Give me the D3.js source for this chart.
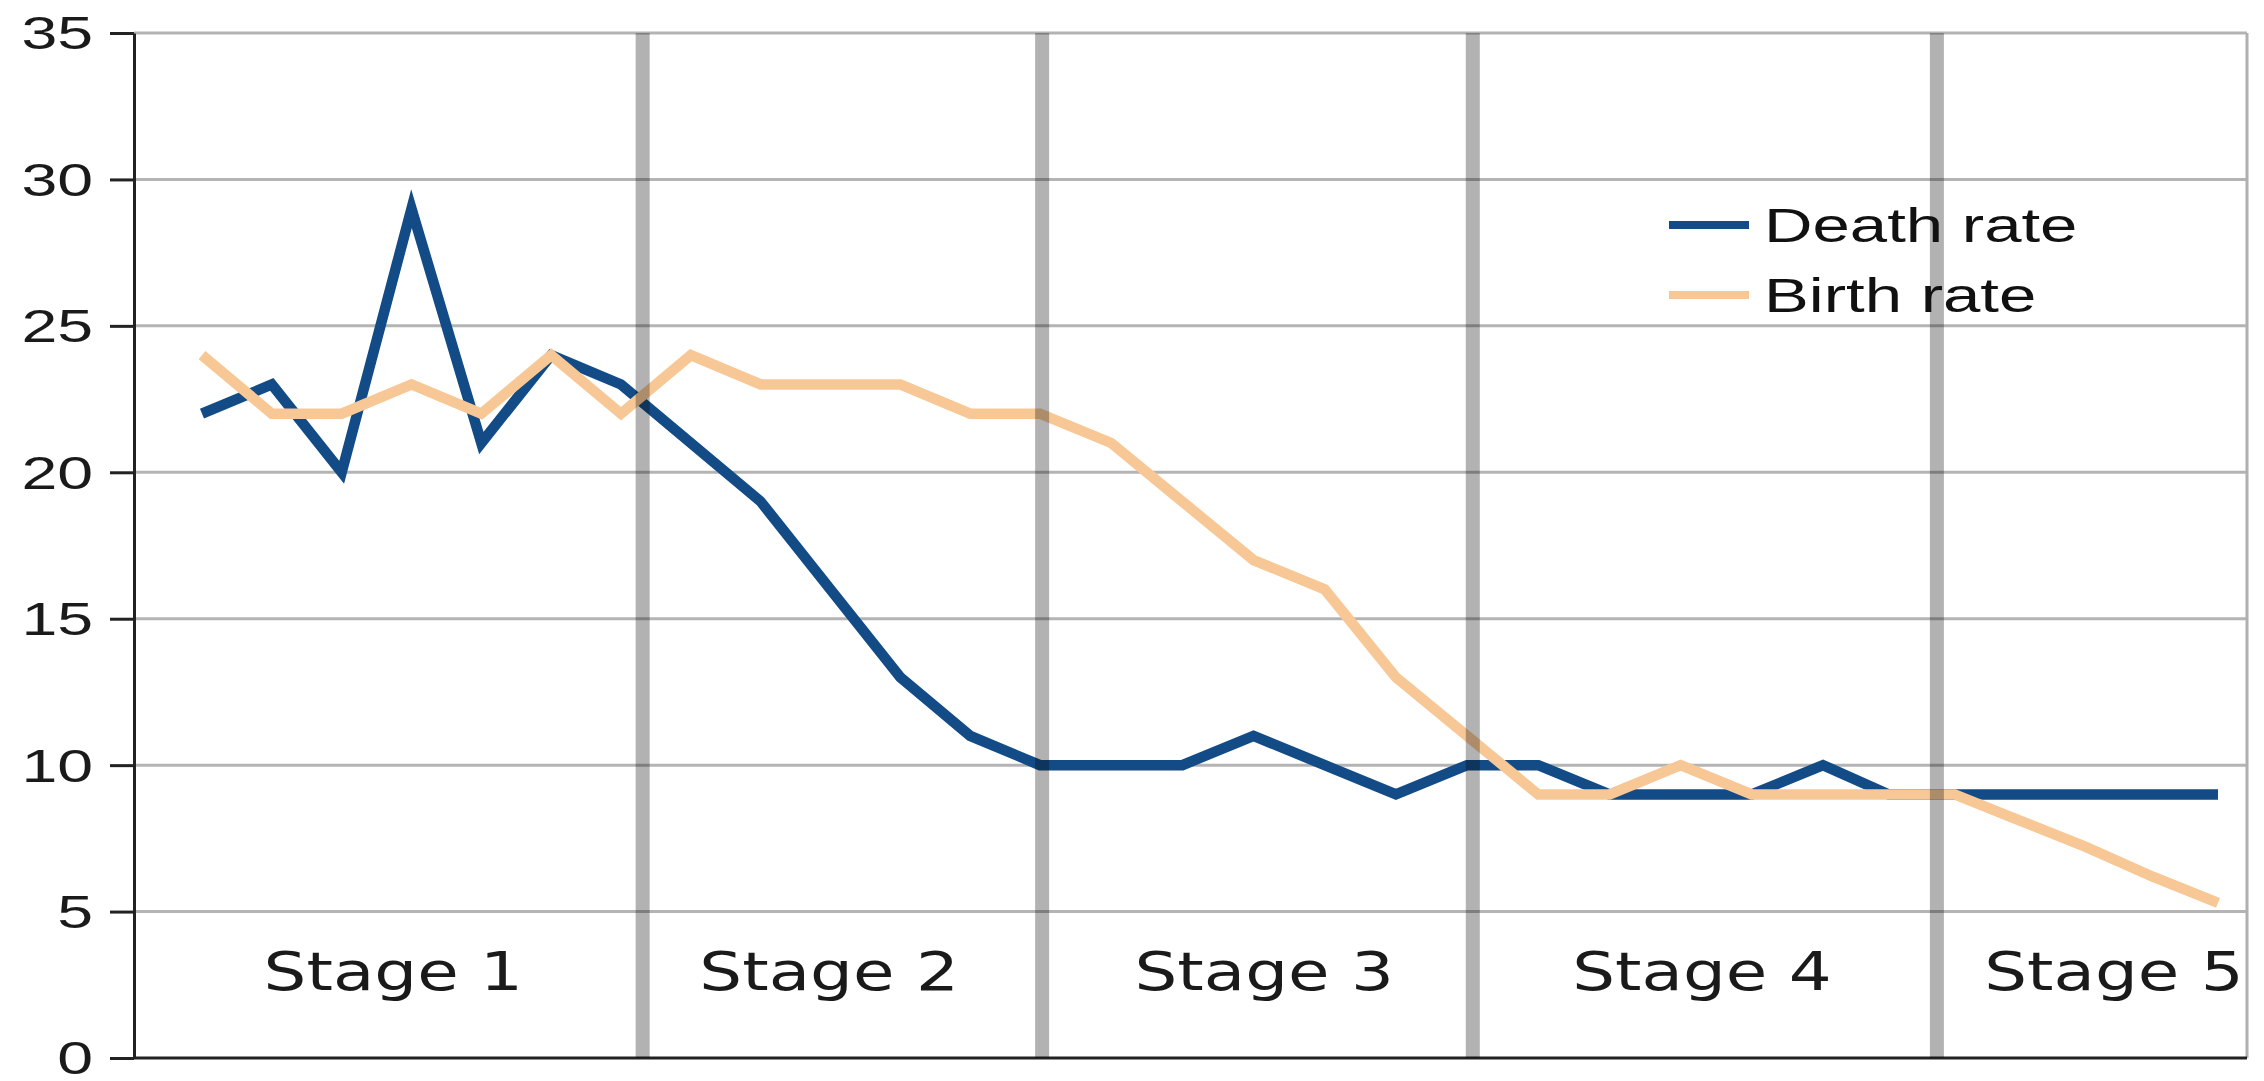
<!DOCTYPE html>
<html lang="en">
<head>
  <meta charset="UTF-8" />
  <title>Demographic transition: birth and death rates</title>

  <script src="https://d3js.org/d3.v7.min.js"></script>

  <style>
    body {
      margin: 0;
      background: #fff;
    }
    svg {
      display: block;
    }
    .tick-label {
      font-family: "Liberation Sans", Arial, sans-serif;
      font-size: 47px;
      fill: #1a1a1a;
    }
    .stage-label {
      font-family: "DejaVu Sans", Verdana, sans-serif;
      font-size: 54px;
      fill: #1a1a1a;
    }
    .legend text {
      font-family: "Liberation Sans", Arial, sans-serif;
      font-size: 49px;
      fill: #111;
    }
    .line {
      fill: none;
      stroke-width: 10.5px;
      stroke-linejoin: miter;
      stroke-miterlimit: 10;
    }
  </style>
</head>

<body>
  <svg id="chart"></svg>

  <script>
    // values, one per time step
    const deathRate = [22, 23, 20, 29, 21, 24, 23, 21, 19, 16,
                       13, 11, 10, 10, 10, 11, 10, 9, 10, 10,
                       9, 9, 9, 10, 9, 9, 9, 9, 9, 9];
    const birthRate = [24, 22, 22, 23, 22, 24, 22, 24, 23, 23,
                       23, 22, 22, 21, 19, 17, 16, 13, 11, 9,
                       9, 10, 9, 9, 9, 9, 8.1, 7.2, 6.2, 5.3];
    const seriesNames  = ["Death rate", "Birth rate"];
    const seriesColors = ["#124b86", "#f7c896"];
    const yTicks = [0, 5, 10, 15, 20, 25, 30, 35];
    const stageNames   = ["Stage 1", "Stage 2", "Stage 3", "Stage 4", "Stage 5"];
    // stage label centres and stage boundaries, in time-step units
    const stageCenters = [2.74, 8.98, 15.15, 21.3, 27.42];
    const stageBounds  = [6.31, 12.03, 18.08, 24.73];

    const W = 2264, H = 1081;
    const margin = { top: 33, right: 17, bottom: 23, left: 134 };
    const width  = W - margin.left - margin.right;
    const height = H - margin.top - margin.bottom;

    const svg = d3.select("#chart")
                  .attr("width", W)
                  .attr("height", H)
                  .append("g")
                    .attr("transform", `translate(${margin.left},${margin.top})`);

    // the original spacing is not quite even, so anchor it at a few steps
    const x = d3.scaleLinear()
                .domain([0, 12, 23, 29])
                .range([68, 906, 1689, 2084]);

    const y = d3.scaleLinear()
                .domain([0, 35])
                .range([height, 0]);

    // stretch text horizontally like the reference
    function stretch(sel, k) {
      sel.each(function () {
        const w = this.getComputedTextLength();
        d3.select(this)
          .attr("textLength", w * k)
          .attr("lengthAdjust", "spacingAndGlyphs");
      });
    }

    // horizontal grid
    svg.append("g")
       .selectAll("line")
       .data(yTicks.filter(d => d > 0))
       .join("line")
         .attr("x1", 0)
         .attr("x2", width)
         .attr("y1", d => y(d))
         .attr("y2", d => y(d))
         .attr("stroke", "#b4b4b4")
         .attr("stroke-width", 3);

    // right border
    svg.append("line")
       .attr("x1", width).attr("x2", width)
       .attr("y1", 0).attr("y2", height)
       .attr("stroke", "#b0b0b0")
       .attr("stroke-width", 3);

    // y axis
    const yAxis = svg.append("g")
                     .call(d3.axisLeft(y)
                             .tickValues(yTicks)
                             .tickSize(24)
                             .tickSizeOuter(0)
                             .tickPadding(17));
    yAxis.select(".domain").attr("stroke", "#222").attr("stroke-width", 3);
    yAxis.selectAll(".tick line").attr("stroke", "#222").attr("stroke-width", 3);
    yAxis.selectAll(".tick text")
         .attr("class", "tick-label")
         .attr("fill", null)
         .attr("dy", "0.34em")
         .call(stretch, 1.37);
    yAxis.attr("font-size", null).attr("font-family", null);

    // bottom axis line
    svg.append("line")
       .attr("x1", 0).attr("x2", width)
       .attr("y1", height).attr("y2", height)
       .attr("stroke", "#222")
       .attr("stroke-width", 3);

    // series
    const line = d3.line()
                   .x((d, i) => x(i))
                   .y(d => y(d));

    [deathRate, birthRate].forEach((vals, i) => {
      svg.append("path")
         .datum(vals)
         .attr("class", "line")
         .attr("stroke", seriesColors[i])
         .attr("d", line);
    });

    // stage separators
    svg.append("g")
       .style("mix-blend-mode", "multiply")
       .selectAll("line")
       .data(stageBounds)
       .join("line")
         .attr("x1", d => x(d))
         .attr("x2", d => x(d))
         .attr("y1", 0)
         .attr("y2", height)
         .attr("stroke", "#b2b2b2")
         .attr("stroke-width", 14);

    // stage labels
    svg.append("g")
       .selectAll("text")
       .data(stageNames)
       .join("text")
         .attr("class", "stage-label")
         .attr("x", (d, i) => x(stageCenters[i]))
         .attr("y", 957)
         .attr("text-anchor", "middle")
         .text(d => d)
         .call(stretch, 1.25);

    // legend
    const legend = svg.append("g")
                      .attr("class", "legend")
                      .attr("transform", "translate(1535, 192)");

    seriesNames.forEach((name, i) => {
      const g = legend.append("g")
                      .attr("transform", `translate(0, ${70 * i})`);
      g.append("line")
       .attr("x1", 0).attr("x2", 80)
       .attr("y1", 0).attr("y2", 0)
       .attr("stroke", seriesColors[i])
       .attr("stroke-width", 8);
      g.append("text")
       .attr("x", 95)
       .attr("y", 17)
       .text(name)
       .call(stretch, 1.37);
    });
  </script>
</body>
</html>
